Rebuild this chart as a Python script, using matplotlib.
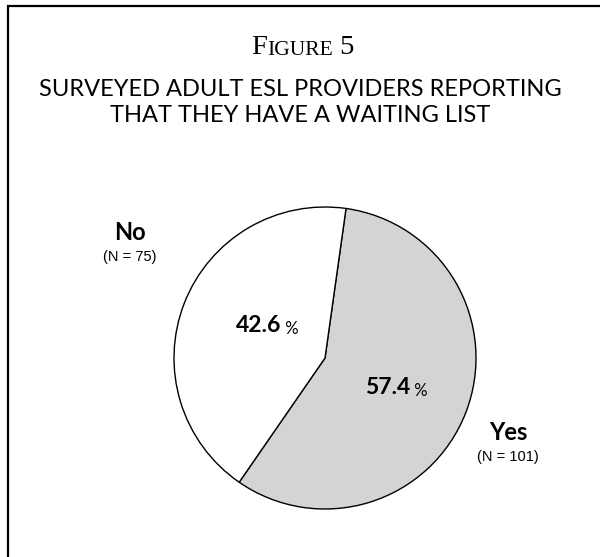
import matplotlib.pyplot as plt

# data
labels = ['Yes', 'No']
counts = [101, 75]
shares = [57.4, 42.6]
colours = ['#d4d4d4', '#ffffff']

W, H = 600, 557
fig = plt.figure(figsize=(W/100, H/100), dpi=100)
ax = fig.add_axes([0, 0, 1, 1])

sans = ['Lato', 'DejaVu Sans']
serif = ['Liberation Serif', 'DejaVu Serif']

# pie: Yes wedge starts just right of the top and runs clockwise
cx, cy, r = 325, H - 358, 151
ax.pie(shares, colors=colours, startangle=82, counterclock=False,
       center=(cx, cy), radius=r, frame=True,
       wedgeprops=dict(edgecolor='k', linewidth=1.0))
ax.set_xlim(0, W)
ax.set_ylim(0, H)
ax.axis('off')

# frame (only the left and top edges show in the reference)
ax.plot([7.5, 7.5, W + 5], [-5, H - 6, H - 6], color='k', lw=1.6, solid_joinstyle='miter')

# title in small caps
t1 = ax.text(251, H - 54, 'F', fontsize=20.5, family=serif, ha='left', va='baseline')
t2 = ax.annotate('IGURE', xy=(1, 0), xycoords=t1, fontsize=15.5, family=serif,
                 ha='left', va='bottom')
t3 = ax.annotate(' 5', xy=(1, 0), xycoords=t2, fontsize=20.5, family=serif,
                 ha='left', va='bottom')

ax.text(300, H - 90, 'SURVEYED ADULT ESL PROVIDERS REPORTING', fontsize=17,
        family=sans, ha='center', va='center')
ax.text(300, H - 115, 'THAT THEY HAVE A WAITING LIST', fontsize=17,
        family=sans, ha='center', va='center')

# percentage labels: bold number, small regular %
for val, (x, y) in zip(shares, [(398, H - 388), (269, H - 326)]):
    n = ax.text(x + 12, y, f'{val:.1f}', fontsize=16.5, fontweight='bold',
                family=sans, ha='right', va='center')
    ax.annotate(' %', xy=(1, 0), xycoords=n, fontsize=12, family=sans,
                ha='left', va='bottom')

# category labels with counts
for lab, cnt, (x, y) in zip(labels, counts, [(508, H - 433), (130, H - 233)]):
    ax.text(x, y, lab, fontsize=17, fontweight='bold', family=sans,
            ha='center', va='center')
    ax.text(x, y - 24, f'(N = {cnt})', fontsize=10.5, family=['Liberation Sans'],
            ha='center', va='center')

fig.savefig('out.png', dpi=100)
